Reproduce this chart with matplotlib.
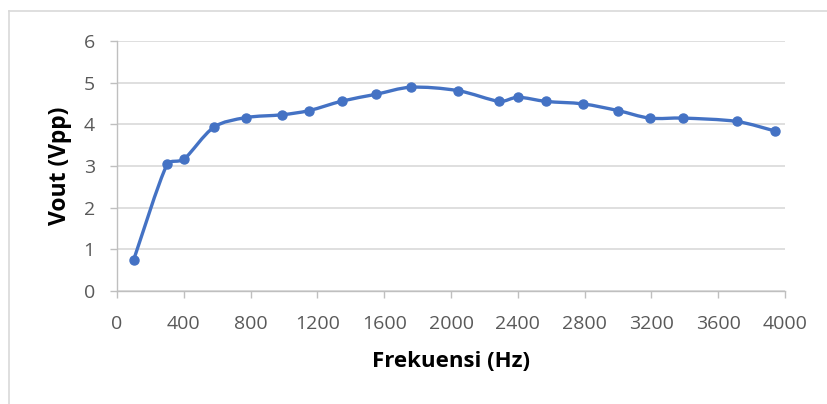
import numpy as np
import matplotlib
matplotlib.use("Agg")
import matplotlib.pyplot as plt
from matplotlib.path import Path
from matplotlib.patches import PathPatch
from matplotlib.lines import Line2D

freq = [100, 300, 400, 580, 770, 990, 1150, 1350, 1550, 1760, 2040, 2290,
        2400, 2570, 2790, 3000, 3190, 3390, 3710, 3940]
vout = [0.75, 3.04, 3.16, 3.93, 4.16, 4.23, 4.33, 4.56, 4.72, 4.89, 4.81, 4.55,
        4.65, 4.55, 4.49, 4.33, 4.15, 4.15, 4.07, 3.84]
xticks = [0, 400, 800, 1200, 1600, 2000, 2400, 2800, 3200, 3600, 4000]
yticks = [0, 1, 2, 3, 4, 5, 6]

W, H = 827, 404
fig = plt.figure(figsize=(W / 100, H / 100), dpi=100)
ax = fig.add_axes([117 / W, 1 - 291 / H, (785 - 117) / W, (291 - 41) / H])

font = ["Open Sans", "DejaVu Sans"]
col = "#4472C4"

ax.set_xlim(0, 4000)
ax.set_ylim(0, 6)

# smoothed line (Excel-like Bezier), computed in display space
pts = ax.transData.transform(np.column_stack([freq, vout]))
n = len(pts)
verts = [pts[0]]
codes = [Path.MOVETO]
for i in range(n - 1):
    p0 = pts[i - 1] if i > 0 else pts[i]
    p1 = pts[i]
    p2 = pts[i + 1]
    p3 = pts[i + 2] if i + 2 < n else pts[i + 1]
    seg = np.linalg.norm(p2 - p1)
    h1 = (p2 - p0) / 6.0
    h2 = (p3 - p1) / 6.0
    lim = seg / 3.0
    if np.linalg.norm(h1) > lim:
        h1 = h1 / np.linalg.norm(h1) * lim
    if np.linalg.norm(h2) > lim:
        h2 = h2 / np.linalg.norm(h2) * lim
    verts += [p1 + h1, p2 - h2, p2]
    codes += [Path.CURVE4] * 3
verts = ax.transData.inverted().transform(np.array(verts))
ax.add_patch(PathPatch(Path(verts, codes), fill=False, edgecolor=col, lw=2.4,
                       capstyle="round", joinstyle="round", zorder=3))
ax.plot(freq, vout, linestyle="none", marker="o", markersize=6.5, color=col, zorder=4)

ax.set_xticks(xticks)
ax.set_yticks(yticks)
ax.set_xticklabels([str(t) for t in xticks], family=font, fontsize=14, color="#595959")
ax.set_yticklabels([str(t) for t in yticks], family=font, fontsize=14, color="#595959")
ax.grid(axis="y", color="#D9D9D9", lw=1.2)
ax.set_axisbelow(True)
for s in ["top", "right"]:
    ax.spines[s].set_visible(False)
for s in ["left", "bottom"]:
    ax.spines[s].set_color("#BFBFBF")
    ax.spines[s].set_linewidth(1.0)
ax.tick_params(axis="both", color="#BFBFBF", length=5, width=1.0)
ax.tick_params(axis="x", pad=12)
ax.tick_params(axis="y", pad=11)

ax.set_xlabel("Frekuensi (Hz)", family=font, fontsize=16, fontweight="bold", labelpad=13)
ax.set_ylabel("Vout (Vpp)", family=font, fontsize=16.5, fontweight="bold", labelpad=8)

# chart area border (top and left visible)
fig.add_artist(Line2D([9 / W, 1.0], [1 - 11 / H, 1 - 11 / H], color="#D9D9D9", lw=1.2))
fig.add_artist(Line2D([9 / W, 9 / W], [0.0, 1 - 11 / H], color="#D9D9D9", lw=1.2))

fig.savefig("out.png", dpi=100, facecolor="white")
